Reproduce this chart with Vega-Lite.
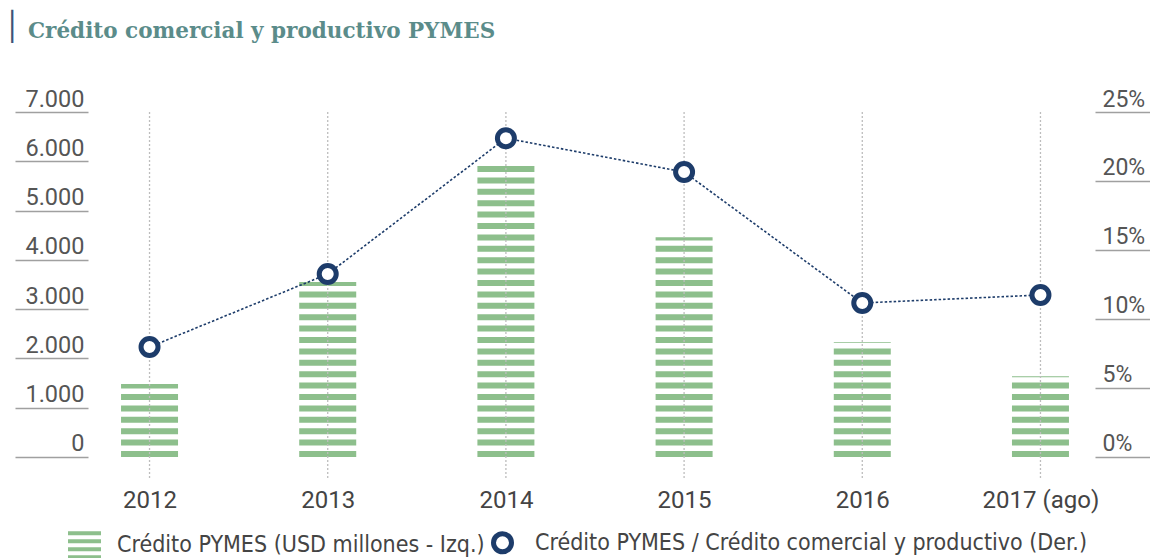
{
  "$schema": "https://vega.github.io/schema/vega-lite/v6.json",
  "width": 990,
  "height": 368,
  "autosize": {"type": "none"},
  "padding": {"left": 100, "top": 112, "right": 60, "bottom": 78},
  "background": "white",
  "title": {
    "text": "Crédito comercial y productivo PYMES",
    "anchor": "start",
    "frame": "group",
    "dx": -72,
    "offset": -46,
    "baseline": "alphabetic",
    "font": "DejaVu Serif",
    "fontSize": 21.5,
    "fontWeight": "bold",
    "color": "#5b8c8a"
  },
  "config": {"view": {"stroke": null}},
  "data": {
    "values": [
      {"anio": "2012", "credito": 1480, "ratio": 0.0797},
      {"anio": "2013", "credito": 3550, "ratio": 0.1326},
      {"anio": "2014", "credito": 5960, "ratio": 0.2310},
      {"anio": "2015", "credito": 4460, "ratio": 0.2065},
      {"anio": "2016", "credito": 2330, "ratio": 0.1116},
      {"anio": "2017 (ago)", "credito": 1640, "ratio": 0.1174}
    ]
  },
  "layer": [
    {
      "mark": {"type": "rule", "strokeWidth": 57, "strokeDash": [6, 5.4], "strokeDashOffset": {"expr": "6 - (datum.credito * 345 / 7000) % 11.4"}, "strokeCap": "butt", "opacity": 1},
      "encoding": {
        "x": {
          "field": "anio", "type": "ordinal", "sort": null,
          "scale": {"type": "point", "padding": 0.278},
          "axis": {"domain": false, "ticks": false, "grid": false, "labelFont": "Roboto", "labelFontSize": 24, "labelColor": "#444", "labelPadding": 8, "labelAngle": 0, "title": null}
        },
        "y": {
          "field": "credito", "type": "quantitative",
          "scale": {"domain": [-467, 7000], "nice": false, "zero": false},
          "axis": {
            "orient": "left", "values": [0, 1000, 2000, 3000, 4000, 5000, 6000, 7000],
            "labelExpr": "replace(format(datum.value, ','), ',', '.')",
            "offset": 12, "tickSize": 73, "tickColor": "#a0a0a0", "tickWidth": 1.5,
            "domain": false, "grid": false,
            "labelPadding": -69, "labelAlign": "right", "labelBaseline": "alphabetic", "labelOffset": -6,
            "labelFont": "Roboto", "labelFontSize": 23.5, "labelColor": "#555",
            "title": "│", "titleAngle": 0, "titleX": -76, "titleY": -85, "titleColor": "#3c5478",
            "titleFontSize": 28, "titleFont": "DejaVu Sans", "titleFontWeight": "normal", "titleBaseline": "middle", "titleAlign": "center"
          }
        },
        "y2": {"datum": 0},
        "color": {
          "datum": "Crédito PYMES (USD millones - Izq.)",
          "scale": {
            "domain": ["Crédito PYMES (USD millones - Izq.)", "Crédito PYMES / Crédito comercial y productivo (Der.)"],
            "range": ["#8dbf8c", "#1d3c6a"]
          },
          "legend": {
            "title": null, "orient": "none", "legendX": -27, "legendY": 419, "direction": "horizontal",
            "padding": 0, "symbolSize": 1089, "symbolStrokeWidth": 0, "labelOffset": 21, "columnPadding": -2,
            "labelFont": "DejaVu Sans Condensed", "labelFontSize": 23, "labelColor": "#444", "labelLimit": 0,
            "symbolType": "circle", "symbolOpacity": 1,
            "encode": {
              "symbols": {
                "update": {
                  "shape": {"signal": "datum.index === 0 ? 'M-1,-0.85H1V-0.61H-1Z M-1,-0.36H1V-0.12H-1Z M-1,0.12H1V0.36H-1Z M-1,0.61H1V0.85H-1Z' : 'circle'"},
                  "fill": {"signal": "datum.index === 0 ? '#8dbf8c' : '#ffffff'"},
                  "stroke": {"signal": "datum.index === 0 ? 'transparent' : '#1d3c6a'"},
                  "strokeWidth": {"signal": "datum.index === 0 ? 0 : 5"},
                  "size": {"signal": "datum.index === 0 ? 1089 : 324"},
                  "strokeDash": {"value": []},
                  "opacity": {"value": 1},
                  "fillOpacity": {"value": 1}
                }
              }
            }
          }
        }
      }
    },
    {
      "mark": {"type": "rule", "color": "#bdbdbd", "strokeDash": [2, 2], "strokeWidth": 1.3},
      "encoding": {"x": {"field": "anio", "type": "ordinal", "sort": null}}
    },
    {
      "encoding": {
        "x": {"field": "anio", "type": "ordinal", "sort": null},
        "y": {
          "field": "ratio", "type": "quantitative",
          "scale": {"domain": [-0.01667, 0.25], "nice": false, "zero": false},
          "axis": {
            "orient": "right", "values": [0, 0.05, 0.1, 0.15, 0.2, 0.25], "format": ".0%",
            "offset": 5, "tickSize": 55, "tickColor": "#a0a0a0", "tickWidth": 1.5,
            "domain": false, "grid": false,
            "labelPadding": -48, "labelAlign": "left", "labelBaseline": "alphabetic", "labelOffset": -6,
            "labelFont": "Roboto", "labelFontSize": 23, "labelColor": "#555", "title": null
          }
        },
        "color": {
          "datum": "Crédito PYMES / Crédito comercial y productivo (Der.)",
          "legend": {
            "title": null, "orient": "none", "legendX": -27, "legendY": 419, "direction": "horizontal",
            "padding": 0, "symbolSize": 1089, "symbolStrokeWidth": 0, "labelOffset": 21, "columnPadding": -2,
            "labelFont": "DejaVu Sans Condensed", "labelFontSize": 23, "labelColor": "#444", "labelLimit": 0,
            "symbolType": "circle", "symbolOpacity": 1,
            "encode": {
              "symbols": {
                "update": {
                  "shape": {"signal": "datum.index === 0 ? 'M-1,-0.85H1V-0.61H-1Z M-1,-0.36H1V-0.12H-1Z M-1,0.12H1V0.36H-1Z M-1,0.61H1V0.85H-1Z' : 'circle'"},
                  "fill": {"signal": "datum.index === 0 ? '#8dbf8c' : '#ffffff'"},
                  "stroke": {"signal": "datum.index === 0 ? 'transparent' : '#1d3c6a'"},
                  "strokeWidth": {"signal": "datum.index === 0 ? 0 : 5"},
                  "size": {"signal": "datum.index === 0 ? 1089 : 324"},
                  "strokeDash": {"value": []},
                  "opacity": {"value": 1},
                  "fillOpacity": {"value": 1}
                }
              }
            }
          }
        }
      },
      "layer": [
        {"mark": {"type": "line", "strokeDash": [2.5, 2], "strokeWidth": 1.6}},
        {"mark": {"type": "point", "filled": false, "fill": "#ffffff", "fillOpacity": 1, "opacity": 1, "strokeWidth": 5, "size": 289}}
      ]
    }
  ],
  "resolve": {"scale": {"y": "independent"}}
}
